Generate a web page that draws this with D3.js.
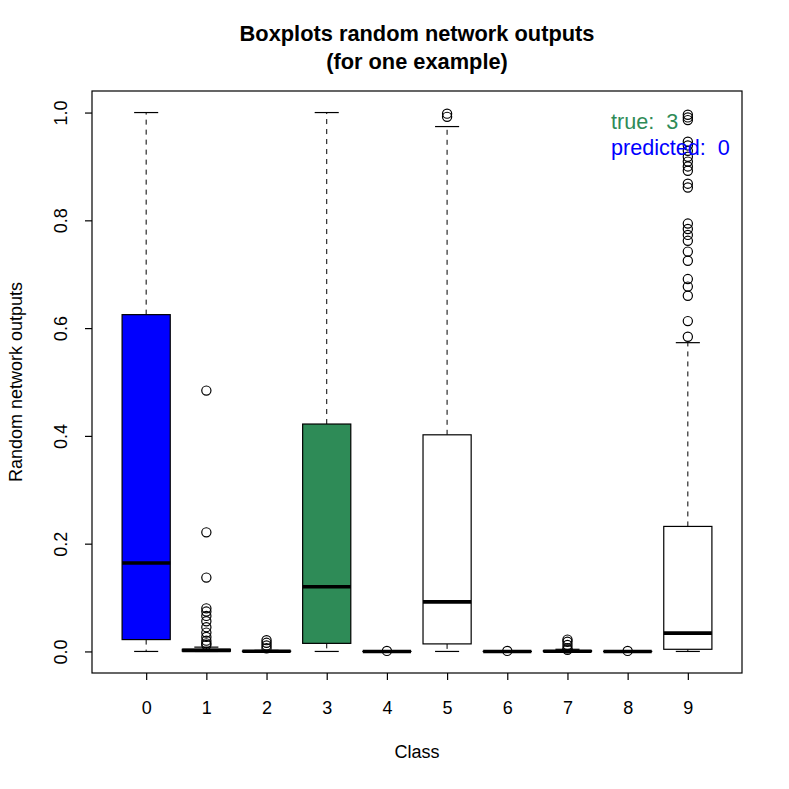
<!DOCTYPE html>
<html>
<head>
<meta charset="utf-8">
<script src="https://cdn.jsdelivr.net/npm/d3@7"></script>
<style>
  body { margin: 0; background: #fff; }
  svg { display: block; font-family: "Liberation Sans", Arial, Helvetica, sans-serif; }
</style>
</head>
<body>
<div id="chart"></div>
<script>
// **Дані: класи та статистики боксплотів**
const classes = ['0', '1', '2', '3', '4', '5', '6', '7', '8', '9']
const lowerWhisker = [0, 0, 0, 0, 0, 0, 0, 0, 0, 0]
const q1 = [0.022, 0.0005, 0, 0.015, 0, 0.014, 0, 0, 0, 0.004]
const medians = [0.164, 0.002, 0.0003, 0.12, 0, 0.092, 0, 0.0005, 0, 0.034]
const q3 = [0.625, 0.004, 0.0008, 0.422, 0.0001, 0.402, 0.0001, 0.0015, 0.0001, 0.232]
const upperWhisker = [1.0, 0.008, 0.002, 1.0, 0.0002, 0.974, 0.0002, 0.004, 0.0002, 0.573]
const outliers = [
  [],
  [0.484, 0.221, 0.137, 0.08, 0.074, 0.066, 0.056, 0.045, 0.035, 0.027, 0.02, 0.015, 0.012],
  [0.021, 0.016, 0.011, 0.006],
  [],
  [0.001],
  [0.998, 0.992],
  [0.001],
  [0.022, 0.018, 0.012, 0.006, 0.003],
  [0.001],
  [0.996, 0.991, 0.986, 0.946, 0.939, 0.929, 0.918, 0.909, 0.9, 0.892, 0.868, 0.861,
    0.794, 0.784, 0.773, 0.762, 0.742, 0.725, 0.691, 0.677, 0.66, 0.613, 0.584]
]
const boxFills = ['blue', 'white', 'white', 'seagreen', 'white', 'white', 'white', 'white', 'white', 'white']
const yTicks = [0, 0.2, 0.4, 0.6, 0.8, 1.0]
const legendItems = [
  { label: 'true:  3', color: 'seagreen' },
  { label: 'predicted:  0', color: 'blue' }
]

const W = 789
const H = 789
const margin = { top: 91, right: 47, bottom: 116, left: 92 }
const width = W - margin.left - margin.right
const height = H - margin.top - margin.bottom

const svg = d3.select('#chart')
  .append('svg')
  .attr('width', W)
  .attr('height', H)

const g = svg.append('g')
  .attr('transform', `translate(${margin.left},${margin.top})`)

// **Шкали (як у R: розширення на 4%)**
const x = d3.scaleLinear()
  .domain([-0.9, 9.9])
  .range([0, width])

const y = d3.scaleLinear()
  .domain([-0.04, 1.04])
  .range([height, 0])

const halfBox = x(0.4) - x(0)
const halfCap = x(0.2) - x(0)

// **Боксплоти**
classes.forEach((c, i) => {
  const cx = x(i)
  const grp = g.append('g')

  // вуса
  grp.append('line')
    .attr('x1', cx).attr('x2', cx)
    .attr('y1', y(q3[i])).attr('y2', y(upperWhisker[i]))
    .attr('stroke', '#000').attr('stroke-dasharray', '5,5')
  grp.append('line')
    .attr('x1', cx).attr('x2', cx)
    .attr('y1', y(q1[i])).attr('y2', y(lowerWhisker[i]))
    .attr('stroke', '#000').attr('stroke-dasharray', '5,5')

  // кінці вусів
  ;[upperWhisker[i], lowerWhisker[i]].forEach(v => {
    grp.append('line')
      .attr('x1', cx - halfCap).attr('x2', cx + halfCap)
      .attr('y1', y(v)).attr('y2', y(v))
      .attr('stroke', '#000').attr('stroke-width', 1.2)
  })

  // коробка
  grp.append('rect')
    .attr('x', cx - halfBox)
    .attr('y', y(q3[i]))
    .attr('width', halfBox * 2)
    .attr('height', Math.max(0, y(q1[i]) - y(q3[i])))
    .attr('fill', boxFills[i])
    .attr('stroke', '#000')
    .attr('stroke-width', 1.2)

  // медіана
  grp.append('line')
    .attr('x1', cx - halfBox).attr('x2', cx + halfBox)
    .attr('y1', y(medians[i])).attr('y2', y(medians[i]))
    .attr('stroke', '#000').attr('stroke-width', 3.6)

  // викиди
  grp.selectAll('circle')
    .data(outliers[i])
    .enter()
    .append('circle')
    .attr('cx', cx)
    .attr('cy', d => y(d))
    .attr('r', 4.6)
    .attr('fill', 'none')
    .attr('stroke', '#000')
    .attr('stroke-width', 1.2)
})

// **Рамка графіка**
g.append('rect')
  .attr('width', width)
  .attr('height', height)
  .attr('fill', 'none')
  .attr('stroke', '#000')
  .attr('stroke-width', 1.2)

// **Осі**
const yAxis = g.append('g')
  .call(d3.axisLeft(y).tickValues(yTicks).tickFormat(d3.format('.1f')).tickSize(7).tickPadding(0))
yAxis.select('.domain').remove()
yAxis.selectAll('text')
  .attr('x', 0)
  .attr('dy', 0)
  .attr('transform', 'translate(-25,0) rotate(-90)')
  .style('text-anchor', 'middle')
  .style('font-size', '18px')
  .style('font-family', null)
  .attr('fill', '#000')

const xAxis = g.append('g')
  .attr('transform', `translate(0,${height})`)
  .call(d3.axisBottom(x).tickValues(d3.range(classes.length)).tickFormat(i => classes[i]).tickSize(7).tickPadding(0))
xAxis.select('.domain').remove()
xAxis.selectAll('text')
  .attr('y', 41)
  .attr('dy', 0)
  .style('font-size', '18px')
  .style('font-family', null)
  .attr('fill', '#000')
svg.selectAll('.tick line').attr('stroke-width', 1.2)

// **Підписи осей**
svg.append('text')
  .attr('x', margin.left + width / 2)
  .attr('y', 758)
  .attr('text-anchor', 'middle')
  .style('font-size', '18px')
  .text('Class')

svg.append('text')
  .attr('transform', `translate(22,${margin.top + height / 2}) rotate(-90)`)
  .attr('text-anchor', 'middle')
  .style('font-size', '18px')
  .text('Random network outputs')

// **Заголовок**
const title = svg.append('text')
  .attr('text-anchor', 'middle')
  .style('font-size', '21.8px')
  .style('font-weight', 'bold')
title.append('tspan')
  .attr('x', margin.left + width / 2)
  .attr('y', 41)
  .text('Boxplots random network outputs')
title.append('tspan')
  .attr('x', margin.left + width / 2)
  .attr('y', 69)
  .text('(for one example)')

// **Легенда**
legendItems.forEach((item, i) => {
  svg.append('text')
    .attr('x', 611)
    .attr('y', 129 + i * 26)
    .attr('fill', item.color)
    .style('font-size', '21.6px')
    .style('white-space', 'pre')
    .text(item.label)
})
</script>
</body>
</html>
